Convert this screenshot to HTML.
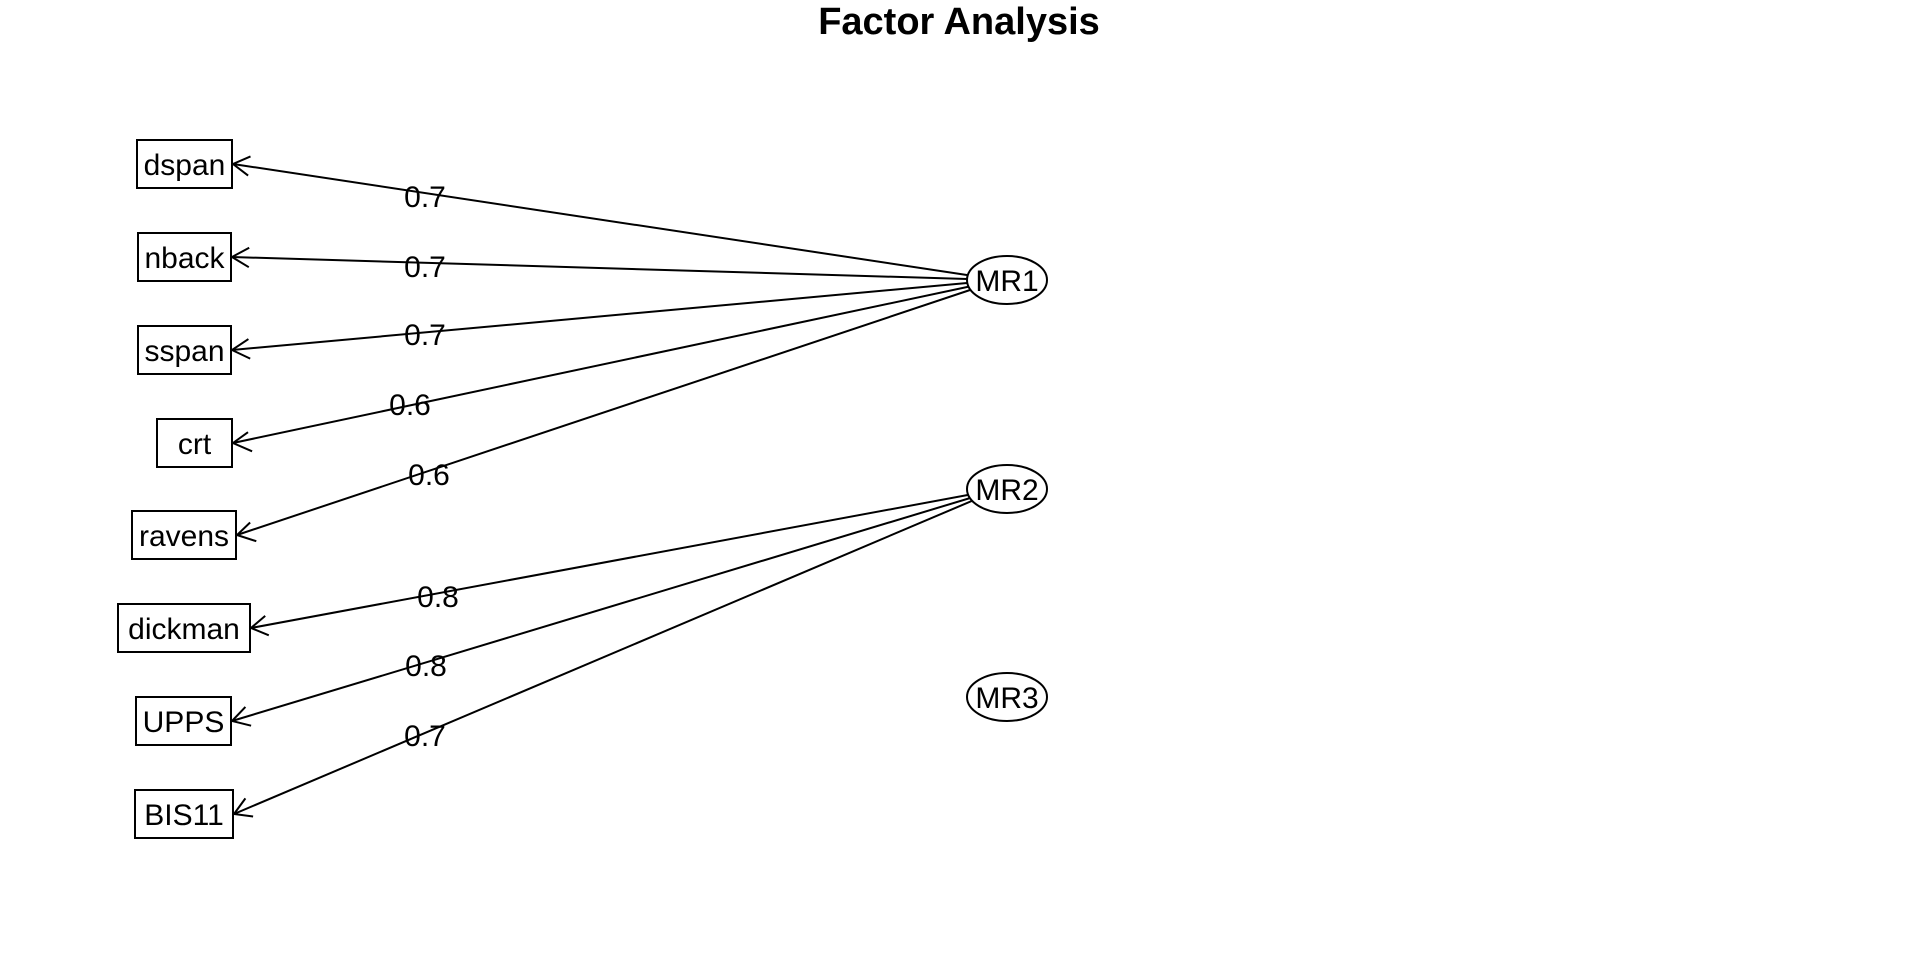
<!DOCTYPE html>
<html><head><meta charset="utf-8"><style>
html,body{margin:0;padding:0;background:#fff;}
svg{display:block;}
text{font-family:"Liberation Sans",sans-serif;}
</style></head><body>
<svg id="s" width="1920" height="960" viewBox="0 0 1920 960" xmlns="http://www.w3.org/2000/svg">
<text x="959" y="34" font-size="38" font-weight="bold" text-anchor="middle">Factor Analysis</text>
<g stroke="#000" stroke-width="2" fill="none">
<line x1="233" y1="164" x2="1000" y2="280"/>
<line x1="232" y1="257" x2="1000" y2="280"/>
<line x1="232" y1="350" x2="1000" y2="280"/>
<line x1="233" y1="443" x2="1000" y2="280"/>
<line x1="237" y1="535" x2="1000" y2="280"/>
<line x1="251" y1="628" x2="1000" y2="489"/>
<line x1="232" y1="721" x2="1000" y2="489"/>
<line x1="234" y1="814" x2="1000" y2="489"/>
<path d="M250.5,156.4 L233,164 L248.1,175.6"/>
<path d="M249.2,247.7 L232,257 L248.8,267.2"/>
<path d="M248.4,339.1 L232,350 L250.2,358.6"/>
<path d="M248.0,432.2 L233,443 L252.1,451.3"/>
<path d="M250.1,522.5 L237,535 L256.3,541.2"/>
<path d="M265.2,615.9 L251,628 L268.8,635.3"/>
<path d="M245.4,706.9 L232,721 L251.1,725.7"/>
<path d="M245.4,798.4 L234,814 L253.1,816.5"/>
</g>
<g stroke="#000" stroke-width="2" fill="#fff">
<rect x="137" y="140" width="95" height="48"/>
<rect x="138" y="233" width="93" height="48"/>
<rect x="138" y="326" width="93" height="48"/>
<rect x="157" y="419" width="75" height="48"/>
<rect x="132" y="511" width="104" height="48"/>
<rect x="118" y="604" width="132" height="48"/>
<rect x="136" y="697" width="95" height="48"/>
<rect x="135" y="790" width="98" height="48"/>
<ellipse cx="1007" cy="280" rx="40" ry="24"/>
<ellipse cx="1007" cy="489" rx="40" ry="24"/>
<ellipse cx="1007" cy="697" rx="40" ry="24"/>
</g>
<g font-size="30" text-anchor="middle">
<text x="184.5" y="175">dspan</text>
<text x="184.5" y="268">nback</text>
<text x="184.5" y="361">sspan</text>
<text x="194.5" y="454">crt</text>
<text x="184" y="546">ravens</text>
<text x="184" y="639">dickman</text>
<text x="183.5" y="732">UPPS</text>
<text x="184" y="825">BIS11</text>
<text x="1007" y="291">MR1</text>
<text x="1007" y="500">MR2</text>
<text x="1007" y="708">MR3</text>
<text x="425" y="207">0.7</text>
<text x="425" y="277">0.7</text>
<text x="425" y="345">0.7</text>
<text x="410" y="415">0.6</text>
<text x="429" y="485">0.6</text>
<text x="438" y="607">0.8</text>
<text x="426" y="676">0.8</text>
<text x="425" y="746">0.7</text>
</g>
</svg>
</body></html>
